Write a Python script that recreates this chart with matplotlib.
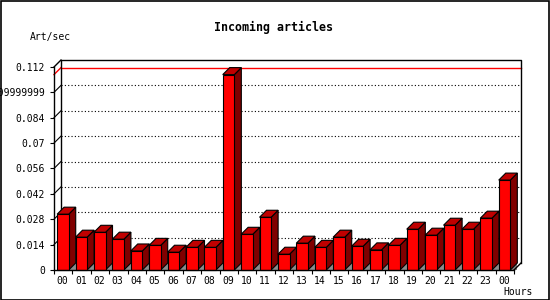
import matplotlib
matplotlib.use("Agg")
from matplotlib import pyplot as plt
from matplotlib.patches import Rectangle, Polygon

plt.rcParams['font.family'] = ['DejaVu Sans Mono']

# 数据
hours = ["00", "01", "02", "03", "04", "05", "06", "07", "08", "09", "10", "11",
         "12", "13", "14", "15", "16", "17", "18", "19", "20", "21", "22", "23", "00"]
values = [0.0308, 0.0181, 0.0208, 0.0170, 0.0105, 0.0136, 0.0098, 0.0125, 0.0125,
          0.1078, 0.0197, 0.0291, 0.0087, 0.0148, 0.0125, 0.0181, 0.0131, 0.0111,
          0.0136, 0.0225, 0.0192, 0.0247, 0.0225, 0.0286, 0.0496]
y_ticks = [0, 0.014, 0.028, 0.042, 0.056, 0.07, 0.084, 0.098, 0.112]
y_tick_labels = ["0", "0.014", "0.028", "0.042", "0.056", "0.07", "0.084",
                 "0.09999999", "0.112"]

n = len(values)
ymax = y_ticks[-1]
DX = 0.38       # 3D深度 (x方向)
DY = 0.00386    # 3D深度 (y方向)
bar_off = 0.17
bar_w = 0.63

fig = plt.figure(figsize=(5.5, 3), dpi=100)
ax = fig.add_axes([54 / 550, 0.1, 467 / 550, 0.7])
ax.set_xlim(0, n + DX)
ax.set_ylim(0, ymax + DY)
for s in ax.spines.values():
    s.set_visible(False)
ax.patch.set_visible(False)

# 背景网格 (虚线)
for t in y_ticks[1:-1]:
    ax.plot([DX, n + DX], [t + DY, t + DY], color='black', lw=0.8,
            linestyle=(0, (1, 2)), zorder=1, clip_on=False)
    ax.plot([0, DX], [t, t + DY], color='black', lw=0.8, zorder=1, clip_on=False)

# 最大值红线
vmax = max(values)
ax.plot([DX, n + DX], [vmax + DY, vmax + DY], color='red', lw=1, zorder=2, clip_on=False)
ax.plot([0, DX], [vmax, vmax + DY], color='red', lw=1, zorder=2, clip_on=False)

# 坐标框
kw = dict(color='black', lw=1, zorder=2, clip_on=False)
ax.plot([DX, DX, n + DX, n + DX], [DY, ymax + DY, ymax + DY, DY], **kw)
ax.plot([0, DX], [ymax, ymax + DY], **kw)
ax.plot([0, 0], [0, ymax], **kw)
ax.plot([0, n], [0, 0], color='black', lw=1, zorder=10, clip_on=False)
ax.plot([n, n + DX], [0, DY], color='black', lw=1, zorder=10, clip_on=False)

# 3D柱形
for i, v in enumerate(values):
    x0 = i + bar_off
    x1 = x0 + bar_w
    ax.add_patch(Polygon([(x1, 0), (x1 + DX, 0), (x1 + DX, DY)], closed=True,
                         fc='#8c8c8c', ec='none', zorder=3, clip_on=False))
    ax.add_patch(Polygon([(x1, 0), (x1 + DX, DY), (x1 + DX, v + DY), (x1, v)], closed=True,
                         fc='#800000', ec='black', lw=0.8, zorder=4, clip_on=False))
    ax.add_patch(Polygon([(x0, v), (x0 + DX, v + DY), (x1 + DX, v + DY), (x1, v)], closed=True,
                         fc='#c00000', ec='black', lw=0.8, zorder=4, clip_on=False))
    ax.add_patch(Rectangle((x0, 0), bar_w, v, fc='#ff0000', ec='black', lw=0.8,
                           zorder=5, clip_on=False))

# 刻度
ax.set_yticks(y_ticks)
ax.set_yticklabels(y_tick_labels, fontsize=7)
ax.tick_params(axis='y', direction='out', length=3, width=0.8, pad=3.5)
ax.set_xticks(range(n + 1))
ax.set_xticklabels([])
ax.tick_params(axis='x', which='major', direction='out', length=3, width=0.8)
ax.set_xticks([i + 0.46 for i in range(n)], minor=True)
ax.set_xticklabels(hours, minor=True, fontsize=7)
ax.tick_params(axis='x', which='minor', length=0, pad=4)

# 文字
fig.text(273 / 550, 1 - 27 / 300, "Incoming articles", ha='center', va='center',
         fontsize=8.4, fontweight='bold')
fig.text(30 / 550, 1 - 37 / 300, "Art/sec", ha='left', va='center', fontsize=7)
fig.text(533 / 550, 1 - 292 / 300, "Hours", ha='right', va='center', fontsize=7)

# 外框
fig.patches.append(Rectangle((0.5 / 550, 0.5 / 300), 548.5 / 550, 298.5 / 300,
                             transform=fig.transFigure, fill=False, ec='black', lw=1.2))

plt.savefig("out.png", dpi=100)
